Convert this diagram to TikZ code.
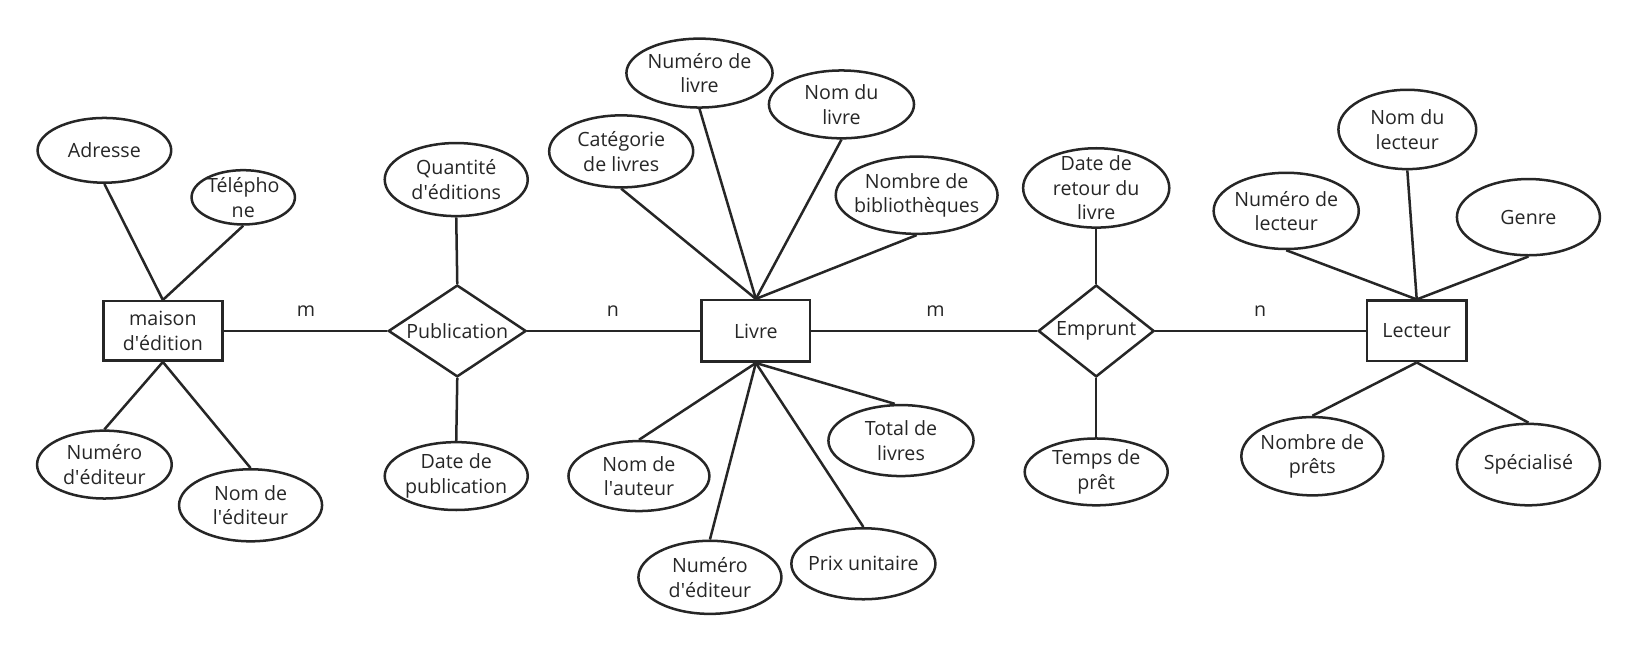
\documentclass[tikz,border=0pt]{standalone}
\usepackage{fontspec}
\setmainfont{Open Sans}
\usetikzlibrary{shapes.geometric}
\definecolor{ink}{HTML}{262626}
\newcommand{\ap}{\textquotesingle}
\tikzset{
  base/.style={draw=ink, line width=2.4pt, text=ink, font=\fontsize{18.8}{23.5}\selectfont, align=center, inner sep=0pt},
  attr/.style={base, ellipse, inner sep=-14pt},
  ent/.style={base, rectangle, minimum width=114pt, minimum height=57pt},
  rel/.style={base, diamond, aspect=1.5},
  link/.style={draw=ink, line width=2.4pt},
  card/.style={text=ink, font=\fontsize{18.8}{22}\selectfont, inner sep=0pt}
}
\begin{document}
\begin{tikzpicture}[x=1pt,y=-1pt]
\useasboundingbox (0,0) rectangle (1568,623);
% entities and relations
\node[ent] (me) at (156,317) {maison\\d\ap{}édition};
\node[rel, minimum width=132pt, minimum height=88pt] (pub) at (438,317) {Publication};
\node[ent, minimum width=104pt, minimum height=59pt] (liv) at (724,317) {Livre};
\node[rel, minimum width=111pt, minimum height=88pt] (emp) at (1050,317) {Emprunt};
\node[ent, minimum width=95pt, minimum height=58pt] (lec) at (1357,317) {Lecteur};
% maison d'edition attributes
\node[attr, minimum width=128pt, minimum height=62pt] (adr) at (100,144) {Adresse};
\node[attr, minimum width=99pt, minimum height=52pt] (tel) at (233,189) {Télépho\\ne};
\node[attr, minimum width=129pt, minimum height=65pt] (nedl) at (100,445) {Numéro\\d\ap{}éditeur};
\node[attr, minimum width=137pt, minimum height=69pt] (nome) at (240,484) {Nom de\\l\ap{}éditeur};
% publication attributes
\node[attr, minimum width=137pt, minimum height=70pt] (qte) at (437,172) {Quantité\\d\ap{}éditions};
\node[attr, minimum width=137pt, minimum height=65pt] (dpub) at (437,456) {Date de\\publication};
% livre attributes
\node[attr, minimum width=140pt, minimum height=66pt] (nliv) at (670,70) {Numéro de\\livre};
\node[attr, minimum width=139pt, minimum height=65pt] (noml) at (806,100) {Nom du\\livre};
\node[attr, minimum width=138pt, minimum height=69pt] (cat) at (595,145) {Catégorie\\de livres};
\node[attr, minimum width=155pt, minimum height=74pt] (nbib) at (878,187) {Nombre de\\bibliothèques};
\node[attr, minimum width=135pt, minimum height=67pt] (naut) at (612,456) {Nom de\\l\ap{}auteur};
\node[attr, minimum width=137pt, minimum height=70pt] (nedm) at (680,553) {Numéro\\d\ap{}éditeur};
\node[attr, minimum width=139pt, minimum height=68pt] (tot) at (863,422) {Total de\\livres};
\node[attr, minimum width=138pt, minimum height=68pt] (prix) at (827,540) {Prix unitaire};
% emprunt attributes
\node[attr, minimum width=140pt, minimum height=76pt] (dret) at (1050,180) {Date de\\retour du\\livre};
\node[attr, minimum width=137pt, minimum height=64pt] (tps) at (1050,452) {Temps de\\prêt};
% lecteur attributes
\node[attr, minimum width=139pt, minimum height=73pt] (nlec) at (1232,202) {Numéro de\\lecteur};
\node[attr, minimum width=132pt, minimum height=76pt] (nomr) at (1348,124) {Nom du\\lecteur};
\node[attr, minimum width=137pt, minimum height=73pt] (gen) at (1464,208) {Genre};
\node[attr, minimum width=136pt, minimum height=75pt] (npr) at (1257,437) {Nombre de\\prêts};
\node[attr, minimum width=137pt, minimum height=78pt] (spe) at (1464,445) {Spécialisé};
% main links
\draw[link] (me) -- (pub);
\draw[link] (pub) -- (liv);
\draw[link] (liv) -- (emp);
\draw[link] (emp) -- (lec);
\node[card] (c1) at (293,298) {m};
\node[card] (c2) at (587,298) {n};
\node[card] (c3) at (896,298) {m};
\node[card] (c4) at (1207,298) {n};
% attribute links
\draw[link] (me.north) -- (adr.south);
\draw[link] (me.north) -- (tel.south);
\draw[link] (me.south) -- (nedl.north);
\draw[link] (me.south) -- (nome.north);
\draw[link] (pub.north) -- (qte.south);
\draw[link] (pub.south) -- (dpub.north);
\draw[link] (liv.north) -- (cat.south);
\draw[link] (liv.north) -- (nliv.south);
\draw[link] (liv.north) -- (noml.south);
\draw[link] (liv.north) -- (nbib.south);
\draw[link] (liv.south) -- (naut.north);
\draw[link] (liv.south) -- (nedm.north);
\draw[link] (liv.south) -- (prix.north);
\draw[link] (liv.south) -- ([xshift=-6pt]tot.north);
\draw[link] (emp.north) -- (dret.south);
\draw[link] (emp.south) -- (tps.north);
\draw[link] (lec.north) -- (nlec.south);
\draw[link] (lec.north) -- (nomr.south);
\draw[link] (lec.north) -- (gen.south);
\draw[link] (lec.south) -- (npr.north);
\draw[link] (lec.south) -- (spe.north);
\end{tikzpicture}
\end{document}
